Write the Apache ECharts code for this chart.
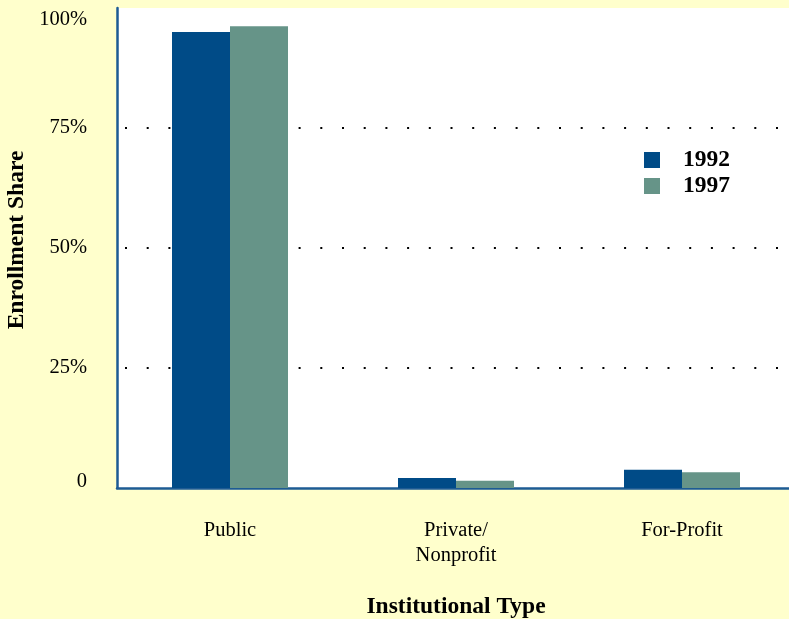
<!DOCTYPE html>
<html>
<head>
<meta charset="utf-8">
<style>
  html, body { margin: 0; padding: 0; background: #FFFFCC; }
  #chart { width: 789px; height: 619px; }
</style>
<script src="https://cdn.jsdelivr.net/npm/echarts@6/dist/echarts.min.js"></script>
</head>
<body>
<div id="chart"></div>
<script>
// Enrollment share by institutional type, 1992 vs 1997 (percent)
const categories = ['Public', 'Private/\nNonprofit', 'For-Profit'];
const share1992 = [95.0, 2.1, 3.8];
const share1997 = [96.2, 1.5, 3.3];
const yTicks = [0, 25, 50, 75, 100];
const yTickLabels = ['0', '25%', '50%', '75%', '100%'];
const seriesNames = ['1992', '1997'];
const xTitle = 'Institutional Type';
const yTitle = 'Enrollment Share';

const FONT = '"Liberation Serif", "Times New Roman", serif';
const AXIS_BLUE = '#1d5b94';
const COLORS = ['#004B87', '#669488'];
const LABEL_SIZE = 20.5;
const TITLE_SIZE = 23.5;

const chart = echarts.init(document.getElementById('chart'));

chart.setOption({
  backgroundColor: '#FFFFCC',
  animation: false,
  textStyle: { fontFamily: FONT },
  grid: {
    left: 117, right: -6, top: 8, bottom: 131,
    containLabel: false,
    outerBoundsMode: 'none',
    show: true, backgroundColor: '#ffffff', borderWidth: 0
  },
  legend: {
    data: seriesNames,
    orient: 'vertical',
    left: 639, top: 143,
    itemWidth: 16, itemHeight: 16, itemGap: 2,
    icon: 'rect',
    textStyle: {
      fontFamily: FONT, fontSize: TITLE_SIZE, fontWeight: 'bold', color: '#000',
      padding: [0, 0, 0, 18]
    }
  },
  graphic: [
    {
      type: 'text',
      x: 17, y: 240,
      rotation: Math.PI / 2,
      style: {
        text: yTitle,
        font: 'bold ' + TITLE_SIZE + 'px ' + FONT,
        fill: '#000',
        align: 'center',
        verticalAlign: 'middle'
      }
    }
  ],
  xAxis: {
    type: 'category',
    data: categories,
    name: xTitle,
    nameLocation: 'middle',
    nameGap: 107,
    nameTextStyle: { fontFamily: FONT, fontSize: TITLE_SIZE, fontWeight: 'bold', color: '#000' },
    axisLine: { lineStyle: { color: AXIS_BLUE, width: 2.5 } },
    axisTick: { show: false },
    axisLabel: {
      fontFamily: FONT, fontSize: LABEL_SIZE, color: '#000',
      margin: 30, lineHeight: 25
    }
  },
  yAxis: {
    type: 'value',
    min: 0, max: 100, interval: 25,
    axisLine: { show: true, lineStyle: { color: AXIS_BLUE, width: 2.5 } },
    axisTick: { show: false },
    axisLabel: {
      margin: 30,
      fontFamily: FONT, fontSize: LABEL_SIZE, color: '#000',
      formatter: function (v) {
        const i = yTicks.indexOf(v);
        const txt = i >= 0 ? yTickLabels[i] : '';
        if (v === yTicks[yTicks.length - 1]) return '{top|' + txt + '}';
        if (v === yTicks[0]) return '{bot|' + txt + '}';
        return txt;
      },
      rich: {
        top: { fontFamily: FONT, fontSize: LABEL_SIZE, color: '#000', padding: [24, 0, 0, 0] },
        bot: { fontFamily: FONT, fontSize: LABEL_SIZE, color: '#000', padding: [0, 0, 12, 0] }
      }
    },
    splitLine: {
      show: true,
      showMinLine: false,
      showMaxLine: false,
      lineStyle: { color: '#000', width: 2, type: [2, 19.7], dashOffset: 13.7 }
    }
  },
  series: [
    {
      name: seriesNames[0], type: 'bar', data: share1992,
      barWidth: 58, barGap: '0%',
      itemStyle: { color: COLORS[0] }
    },
    {
      name: seriesNames[1], type: 'bar', data: share1997,
      barWidth: 58, barGap: '0%',
      itemStyle: { color: COLORS[1] }
    }
  ]
});
</script>
</body>
</html>
